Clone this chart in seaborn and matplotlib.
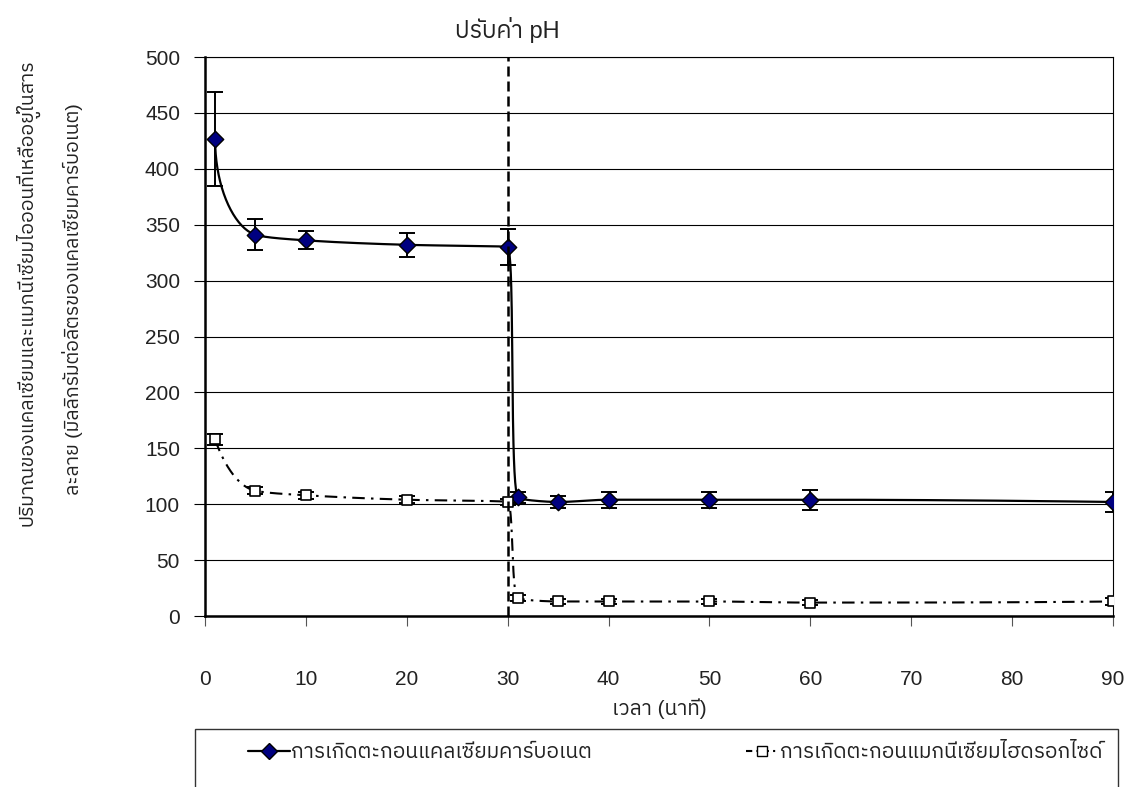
import numpy as np
import pandas as pd
import matplotlib
matplotlib.use("Agg")
import matplotlib.pyplot as plt
import matplotlib.transforms as mtransforms
import matplotlib.patches as mpatches
from matplotlib.lines import Line2D
import matplotlib.font_manager as fm
from matplotlib.ft2font import FT2Font
import seaborn as sns

# ---------------- data ----------------
time_min = [1, 5, 10, 20, 30, 31, 35, 40, 50, 60, 90]
calcium = [427, 341, 336, 332, 330, 106, 102, 104, 104, 104, 102]
calcium_err = [42, 14, 8, 11, 16, 5, 5, 7, 7, 9, 9]
magnesium = [158, 112, 108, 104, 102, 16, 13, 13, 13, 12, 13]
magnesium_err = [5, 3, 3, 3, 3, 3, 2, 2, 2, 2, 3]
x_ticks = [0, 10, 20, 30, 40, 50, 60, 70, 80, 90]
y_ticks = [0, 50, 100, 150, 200, 250, 300, 350, 400, 450, 500]
ph_adjust_time = 30

label_ca = "การเกิดตะกอนแคลเซียมคาร์บอเนต"
label_mg = "การเกิดตะกอนแมกนีเซียมไฮดรอกไซด์"
title_text = "ปรับค่า pH"
xlabel_text = "เวลา (นาที)"
ylabel_line1 = "ปริมาณของแคลเซียมและแมกนีเซียมไอออนที่เหลืออยู่ในสาร"
ylabel_line2 = "ละลาย (มิลลิกรัมต่อลิตรของแคลเซียมคาร์บอเนต)"

# ---------------- fonts ----------------
sns.set_theme(style="white")
thai_fams = []
for fe in fm.fontManager.ttflist:
    try:
        if 0x0E01 in FT2Font(fe.fname).get_charmap():
            thai_fams.append(fe.name)
    except Exception:
        pass
thai_fams = sorted(set(thai_fams), key=lambda n: (("Thai" not in n), ("Sans" not in n), n))
fam = ["Liberation Sans"] + thai_fams[:1] + ["DejaVu Sans"]
plt.rcParams["font.family"] = fam


def _pchip_slopes(h, d):
    n = len(d) + 1
    m = np.zeros(n)
    for k in range(1, n - 1):
        if d[k - 1] * d[k] <= 0:
            m[k] = 0.0
        else:
            w1 = 2 * h[k] + h[k - 1]
            w2 = h[k] + 2 * h[k - 1]
            m[k] = (w1 + w2) / (w1 / d[k - 1] + w2 / d[k])

    def end(h0, h1, d0, d1):
        m0 = ((2 * h0 + h1) * d0 - h0 * d1) / (h0 + h1)
        if np.sign(m0) != np.sign(d0):
            m0 = 0.0
        elif np.sign(d0) != np.sign(d1) and abs(m0) > abs(3 * d0):
            m0 = 3 * d0
        return m0

    m[0] = end(h[0], h[1], d[0], d[1])
    m[-1] = end(h[-1], h[-2], d[-1], d[-2])
    return m


def smooth_curve(x, y, xscale=10.09, yscale=1.118, n=40):
    """Overshoot-free smoothed line through the points (chord-length monotone Hermite)."""
    x = np.asarray(x, float)
    y = np.asarray(y, float)
    px, py = x * xscale, y * yscale
    h = np.hypot(np.diff(px), np.diff(py))
    dx, dy = np.diff(x) / h, np.diff(y) / h
    mx, my = _pchip_slopes(h, dx), _pchip_slopes(h, dy)
    xs, ys = [], []
    for k in range(len(h)):
        t = np.linspace(0, 1, n)
        if k > 0:
            t = t[1:]
        h00 = 2 * t**3 - 3 * t**2 + 1
        h10 = t**3 - 2 * t**2 + t
        h01 = -2 * t**3 + 3 * t**2
        h11 = t**3 - t**2
        xs.append(h00 * x[k] + h10 * h[k] * mx[k] + h01 * x[k + 1] + h11 * h[k] * mx[k + 1])
        ys.append(h00 * y[k] + h10 * h[k] * my[k] + h01 * y[k + 1] + h11 * h[k] * my[k + 1])
    return pd.DataFrame({"x": np.concatenate(xs), "y": np.concatenate(ys)})


W, H = 1127, 787
fig = plt.figure(figsize=(W / 100, H / 100), dpi=100)
ax = fig.add_axes([205 / W, 1 - 616 / H, (1113 - 205) / W, (616 - 57) / H])

mg_style = (0, (6, 3, 1.2, 3))

# smoothed lines
ca_s = smooth_curve(time_min, calcium)
mg_s = smooth_curve(time_min, magnesium)
sns.lineplot(data=ca_s, x="x", y="y", sort=False, estimator=None, ax=ax,
             color="black", lw=1.6, zorder=3)
sns.lineplot(data=mg_s, x="x", y="y", sort=False, estimator=None, ax=ax,
             color="black", lw=1.5, zorder=3, dashes=False)
ax.lines[-1].set_linestyle(mg_style)

# error bars
ax.errorbar(time_min, calcium, yerr=calcium_err, fmt="none", ecolor="black",
            elinewidth=1.4, capsize=5.5, capthick=1.4, zorder=4)
ax.errorbar(time_min, magnesium, yerr=magnesium_err, fmt="none", ecolor="black",
            elinewidth=1.4, capsize=5.5, capthick=1.4, zorder=4)

# markers
df = pd.DataFrame({"t": time_min, "ca": calcium, "mg": magnesium})
sns.scatterplot(data=df, x="t", y="ca", ax=ax, marker="D", s=70, color="#000080",
                edgecolor="black", linewidth=1.0, zorder=5)
sns.scatterplot(data=df, x="t", y="mg", ax=ax, marker="s", s=55, color="white",
                edgecolor="black", linewidth=1.2, zorder=5)

# pH adjustment line
ax.axvline(ph_adjust_time, color="black", lw=1.8, ls=(0, (4, 2)), zorder=6)

ax.set_xlim(0, 90)
ax.set_ylim(0, 500)
ax.set_xticks(x_ticks)
ax.set_yticks(y_ticks)
ax.set_xticklabels([str(v) for v in x_ticks])
ax.set_yticklabels([str(v) for v in y_ticks])
ax.set_xlabel("")
ax.set_ylabel("")

ax.grid(axis="y", color="black", lw=0.8)
ax.grid(axis="x", visible=False)
ax.set_axisbelow(True)
for side in ["left", "bottom"]:
    ax.spines[side].set_color("black")
    ax.spines[side].set_linewidth(1.8)
for side in ["right", "top"]:
    ax.spines[side].set_color("black")
    ax.spines[side].set_linewidth(0.8)

ax.tick_params(axis="y", direction="out", length=8, width=0.8, color="black",
               pad=10, labelsize=15, labelcolor="#222222", left=True)
ax.tick_params(axis="x", direction="out", length=7, width=0.8, color="#555555",
               pad=32, labelsize=15, labelcolor="#222222", bottom=True)

# texts
trans = mtransforms.blended_transform_factory(ax.transData, fig.transFigure)
ax.text(ph_adjust_time, 1 - 30 / H, title_text, transform=trans, ha="center",
        va="center", fontsize=17, color="#222222")
fig.text((205 + 1113) / 2 / W, 1 - 709 / H, xlabel_text, ha="center", va="center",
         fontsize=15, color="#222222")
fig.text(27 / W, 1 - 293 / H, ylabel_line1, rotation=90, ha="center", va="center",
         fontsize=14, color="#222222")
fig.text(73 / W, 1 - 299 / H, ylabel_line2, rotation=90, ha="center", va="center",
         fontsize=14, color="#222222")

# legend frame (runs off the bottom edge)
fig.patches.append(mpatches.Rectangle((195 / W, -0.05), (1118 - 195) / W, 1 - 729 / H + 0.05,
                                      transform=fig.transFigure, fill=False,
                                      edgecolor="#333333", lw=1.0))
h_ca = Line2D([], [], color="black", lw=1.6, marker="D", markersize=8,
              markerfacecolor="#000080", markeredgecolor="black")
h_mg = Line2D([], [], color="black", lw=1.5, ls=(0, (3, 2, 1, 2)), marker="s",
              markersize=7, markerfacecolor="white", markeredgecolor="black")
leg1 = fig.legend(handles=[h_ca], labels=[label_ca], loc="center left",
                  bbox_to_anchor=(248 / W, 1 - 753 / H), frameon=False, fontsize=15,
                  handlelength=2.0, handletextpad=0.05, borderpad=0, borderaxespad=0)
leg2 = fig.legend(handles=[h_mg], labels=[label_mg], loc="center right",
                  bbox_to_anchor=(1102 / W, 1 - 753 / H), frameon=False, fontsize=15,
                  handlelength=1.5, handletextpad=0.1, borderpad=0, borderaxespad=0)
for lg in (leg1, leg2):
    for txt in lg.get_texts():
        txt.set_color("#222222")

fig.savefig("out.png", dpi=100)
